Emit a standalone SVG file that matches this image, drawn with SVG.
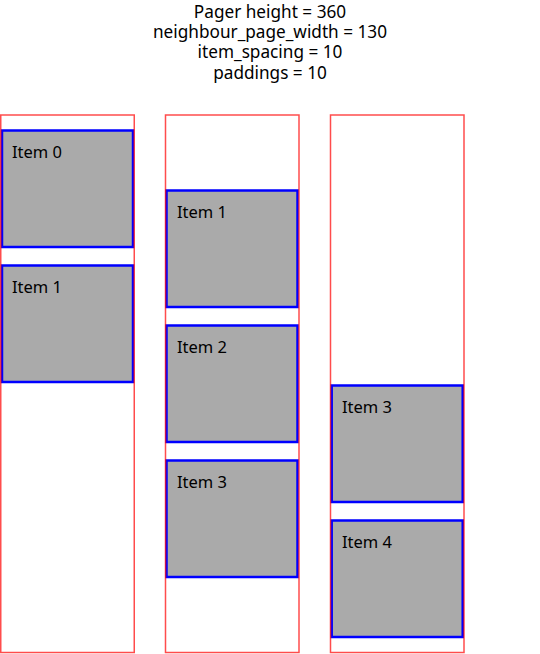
<svg xmlns="http://www.w3.org/2000/svg" width="540" height="654" viewBox="0 0 540 654">
<style>
.t{font-family:"Noto Sans","Open Sans",sans-serif;font-size:16.5px;fill:#000}
.h{text-anchor:middle;font-size:17.2px}
.item{fill:#aaaaaa;stroke:#0000ff;stroke-width:2.5}
.page{fill:none;stroke:#ff0000;stroke-opacity:0.7;stroke-width:1.5}
</style>
<rect width="540" height="654" fill="#fff"/>
<g id="header">
<text class="t h" x="270" y="18">Pager height = 360</text>
<text class="t h" x="270" y="38">neighbour_page_width = 130</text>
<text class="t h" x="270" y="58.3">item_spacing = 10</text>
<text class="t h" x="270" y="78.5">paddings = 10</text>
</g>
<g id="page0-items">
<g id="p0-item0"><rect class="item" x="2" y="130.5" width="131" height="116.5"/><text class="t" x="12" y="157.5">Item 0</text></g>
<g id="p0-item1"><rect class="item" x="2" y="265.5" width="131" height="116.5"/><text class="t" x="12" y="292.5">Item 1</text></g>
</g>
<g id="page1-items">
<g id="p1-item1"><rect class="item" x="166.5" y="190.5" width="131" height="116.5"/><text class="t" x="177" y="217.5">Item 1</text></g>
<g id="p1-item2"><rect class="item" x="166.5" y="325.5" width="131" height="116.5"/><text class="t" x="177" y="352.5">Item 2</text></g>
<g id="p1-item3"><rect class="item" x="166.5" y="460.5" width="131" height="116.5"/><text class="t" x="177" y="487.5">Item 3</text></g>
</g>
<g id="page2-items">
<g id="p2-item3"><rect class="item" x="331.7" y="385.5" width="131" height="116.5"/><text class="t" x="342" y="412.5">Item 3</text></g>
<g id="p2-item4"><rect class="item" x="331.7" y="520.5" width="131" height="116.5"/><text class="t" x="342" y="547.5">Item 4</text></g>
</g>
<g id="pages">
<rect id="page0" class="page" x="0.75" y="115" width="133.5" height="537.5"/>
<rect id="page1" class="page" x="165.5" y="115" width="133.5" height="537.5"/>
<rect id="page2" class="page" x="330.5" y="115" width="133.5" height="537.5"/>
</g>
</svg>
